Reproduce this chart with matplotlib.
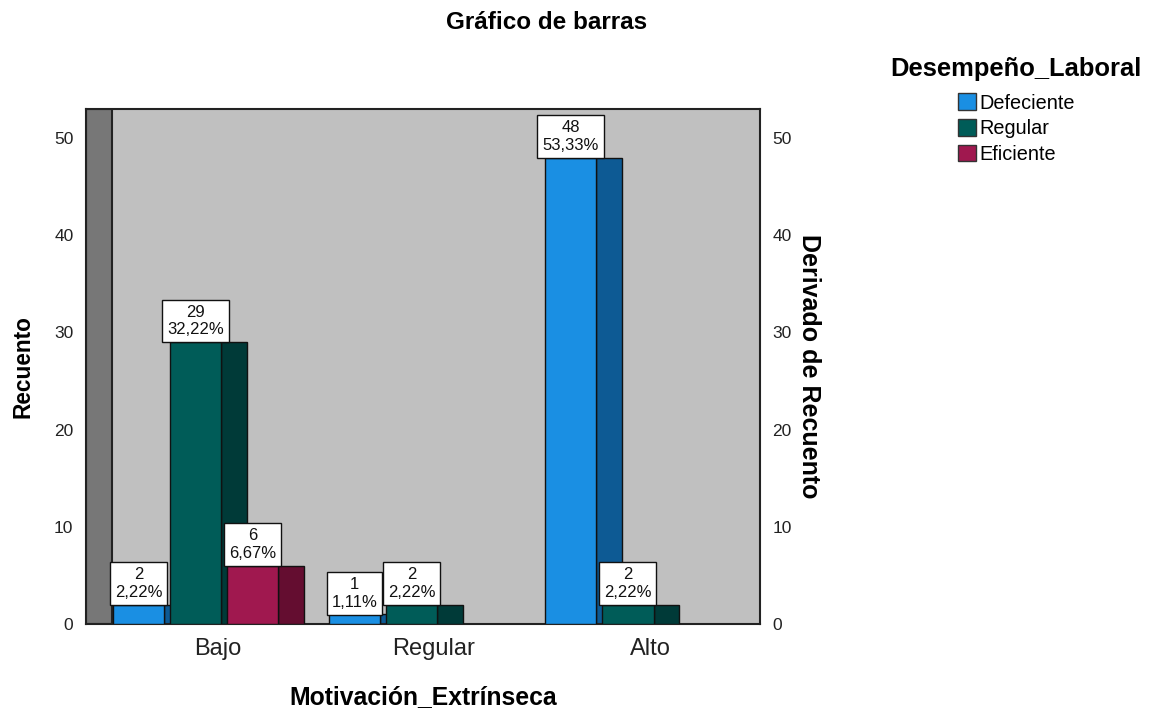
import matplotlib
matplotlib.use("Agg")
import matplotlib.pyplot as plt
from matplotlib.patches import Patch

plt.rcParams["font.family"] = ["Liberation Sans", "DejaVu Sans"]

categories = ["Bajo", "Regular", "Alto"]
series_names = ["Defeciente", "Regular", "Eficiente"]
defeciente = [2, 1, 48]
regular = [29, 2, 2]
eficiente = [6, 0, 0]

front_colors = ["#1a8fe3", "#005c58", "#a0184f"]
side_colors = ["#0d5a94", "#003a38", "#640d30"]

series = [defeciente, regular, eficiente]
total = sum(sum(s) for s in series)

# bar geometry in category units
bar_w = 0.24
bar_step = 0.264
depth = 0.12
first_left = -0.488

fig = plt.figure(figsize=(11.51, 7.18), dpi=100)
ax = fig.add_axes([0.0747, 0.1309, 0.5856, 0.7173])
ax.set_facecolor("#c0c0c0")
ax.set_xlim(-0.611, 2.509)
ax.set_ylim(0, 53)

# left side wall of the 3D box
ax.axvspan(-0.611, -0.491, facecolor="#777777", edgecolor="#222222", lw=1.5, zorder=1)

for j, values in enumerate(series):
    for i, v in enumerate(values):
        if v == 0:
            continue
        left = i + first_left + j * bar_step
        ax.bar(left + bar_w, v, width=depth, align="edge", color=side_colors[j],
               edgecolor="#111111", lw=1, zorder=2 + 2 * j)
        ax.bar(left, v, width=bar_w, align="edge", color=front_colors[j],
               edgecolor="#111111", lw=1, zorder=3 + 2 * j)
        pct = f"{v / total * 100:.2f}".replace(".", ",")
        ax.annotate(f"{v}\n{pct}%", xy=(left + bar_w / 2, v), xytext=(0, 3.4),
                    textcoords="offset points", ha="center", va="bottom",
                    fontsize=12, linespacing=1.22, color="#111111", zorder=20,
                    bbox=dict(boxstyle="square,pad=0.3", fc="white", ec="#111111", lw=1))

ax.set_xticks(range(len(categories)))
ax.set_xticklabels(categories, fontsize=17, color="#222222")
ax.set_yticks(range(0, 51, 10))
ax.tick_params(axis="both", length=0, labelsize=12.5, colors="#222222")
ax.tick_params(axis="x", pad=10, labelsize=17)
ax.tick_params(axis="y", pad=9)
for sp in ax.spines.values():
    sp.set_linewidth(1.5)
    sp.set_color("#222222")

ax.set_xlabel("Motivación_Extrínseca", fontsize=17.8, fontweight="bold", labelpad=18)
ax.set_ylabel("Recuento", fontsize=16.3, fontweight="bold", labelpad=14)

ax2 = ax.twinx()
ax2.set_ylim(ax.get_ylim())
ax2.set_yticks(range(0, 51, 10))
ax2.tick_params(axis="y", length=0, labelsize=12.5, colors="#222222", pad=9)
for sp in ax2.spines.values():
    sp.set_visible(False)
ax2.set_ylabel("Derivado de Recuento", fontsize=18, fontweight="bold",
               rotation=-90, labelpad=21)

fig.text(0.475, 0.969, "Gráfico de barras", ha="center", va="center",
         fontsize=17.5, fontweight="bold")

handles = [Patch(facecolor=c, edgecolor="#333333", lw=1) for c in front_colors]
leg = fig.legend(handles, series_names, title="Desempeño_Laboral",
                 loc="upper center", bbox_to_anchor=(0.883, 0.94),
                 frameon=False, fontsize=14.3, handlelength=0.9, handleheight=0.9,
                 handletextpad=0.15, labelspacing=0.33, borderpad=0.2)
leg.get_title().set_fontsize(18.4)
leg.get_title().set_fontweight("bold")
leg._legend_box.sep = 9

fig.savefig("out.png", dpi=100)
